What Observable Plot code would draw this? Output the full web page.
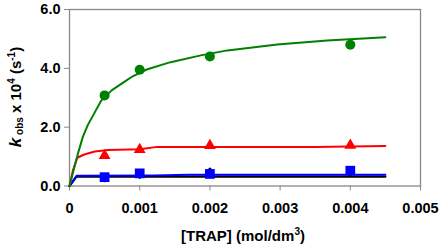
<!DOCTYPE html>
<html>
<head>
<meta charset="utf-8">
<script src="https://cdn.jsdelivr.net/npm/d3@7"></script>
<script src="https://cdn.jsdelivr.net/npm/@observablehq/plot@0.6"></script>
<style>
  html, body { margin: 0; padding: 0; background: #fff; }
  svg { display: block; }
</style>
</head>
<body>
<div id="chart"></div>
<script>
// Measured concentrations [TRAP] (mol/dm3)
const conc = [0.0005, 0.001, 0.002, 0.004];
// kobs x 10^4 (s^-1) markers
const greenPts = [3.08, 3.95, 4.40, 4.80];
const redPts   = [1.03, 1.24, 1.37, 1.38];
const bluePts  = [0.30, 0.43, 0.41, 0.52];
const blackPts = [0.27, 0.38, 0.49, 0.47];

// Fitted curves: [x, y]
const greenFit = [[0,0],[0.00007,0.65],[0.00012,1.1],[0.00019,1.67],[0.00026,2.07],[0.00035,2.46],[0.00045,2.9],[0.0006,3.25],[0.00078,3.54],[0.0009,3.73],[0.0011,3.96],[0.00144,4.21],[0.00187,4.44],[0.00225,4.61],[0.00296,4.81],[0.00367,4.95],[0.0045,5.06]];
const redFit   = [[0,0],[0.00005,0.54],[0.00011,0.96],[0.00021,1.07],[0.00036,1.17],[0.00055,1.22],[0.001,1.25],[0.00125,1.33],[0.0035,1.33],[0.0045,1.36]];
const blueFit  = [[0,0],[0.0001,0.35],[0.0012,0.36],[0.0017,0.38],[0.0045,0.38]];
const blackFit = [[0,0],[0.0001,0.32],[0.0045,0.32]];

const xTicks = [0, 0.001, 0.002, 0.003, 0.004, 0.005];
const yTicks = [0, 2, 4, 6];

const pts = (ys) => conc.map((x, i) => ({x, y: ys[i]}));
const fit = (arr) => arr.map(([x, y]) => ({x, y}));

const font = "'Liberation Sans', Arial, sans-serif";

const plot = Plot.plot({
  width: 443,
  height: 247,
  marginLeft: 69,
  marginRight: 23,
  marginTop: 9,
  marginBottom: 61.5,
  style: {fontFamily: font, fontSize: "14px", fontWeight: "bold", color: "#000", background: "#fff"},
  x: {domain: [0, 0.005]},
  y: {domain: [0, 6]},
  marks: [
    Plot.frame({stroke: "#888", strokeWidth: 1.3}),
    Plot.axisY({ticks: yTicks, tickSize: 5, tickPadding: 4, stroke: "#888", fill: "#000",
      tickFormat: d3.format(".1f"), label: null, fontSize: 14.5, fontWeight: "bold"}),
    Plot.axisX({ticks: xTicks, tickSize: 5, tickPadding: 12, stroke: "#888", fill: "#000",
      tickFormat: d => d === 0 ? "0" : d.toFixed(3), label: null, fontSize: 14.5, fontWeight: "bold"}),
    Plot.line(fit(blackFit), {x: "x", y: "y", stroke: "#000", strokeWidth: 2.2}),
    Plot.line(fit(blueFit), {x: "x", y: "y", stroke: "#0000ff", strokeWidth: 2}),
    Plot.line(fit(redFit), {x: "x", y: "y", stroke: "#ff0000", strokeWidth: 2}),
    Plot.line(fit(greenFit), {x: "x", y: "y", stroke: "#008000", strokeWidth: 2}),
    Plot.dot(pts(blackPts), {x: "x", y: "y", symbol: "diamond2", r: 4, fill: "#000", stroke: "none"}),
    Plot.dot(pts(bluePts), {x: "x", y: "y", symbol: "square", r: 5.5, fill: "#0000ff", stroke: "none"}),
    Plot.dot(pts(redPts), {x: "x", y: "y", symbol: "triangle", r: 4.4, fill: "#ff0000", stroke: "none"}),
    Plot.dot(pts(greenPts), {x: "x", y: "y", symbol: "circle", r: 5, fill: "#008000", stroke: "none"})
  ]
});

const svg = d3.select(plot);
// X axis title
const xt = svg.append("text")
  .attr("x", 243).attr("y", 240.5)
  .attr("text-anchor", "middle")
  .attr("font-family", font).attr("font-size", 15).attr("font-weight", "bold").attr("fill", "#000");
xt.append("tspan").text("[TRAP] (mol/dm");
xt.append("tspan").attr("font-size", 10).attr("dy", -6).text("3");
xt.append("tspan").attr("dy", 6).text(")");

// Y axis title
const yt = svg.append("text")
  .attr("transform", "translate(21,97) rotate(-90)")
  .attr("text-anchor", "middle")
  .attr("font-family", font).attr("font-size", 15).attr("font-weight", "bold").attr("fill", "#000");
yt.append("tspan").attr("font-style", "italic").attr("font-size", 17).text("k");
yt.append("tspan").attr("font-size", 10).attr("dy", 2).text(" obs");
yt.append("tspan").attr("dy", -2).text(" x 10");
yt.append("tspan").attr("font-size", 10).attr("dy", -6).text("4");
yt.append("tspan").attr("dy", 6).text(" (s");
yt.append("tspan").attr("font-size", 10).attr("dy", -6).text("-1");
yt.append("tspan").attr("dy", 6).text(")");

document.getElementById("chart").appendChild(plot);
</script>
</body>
</html>
